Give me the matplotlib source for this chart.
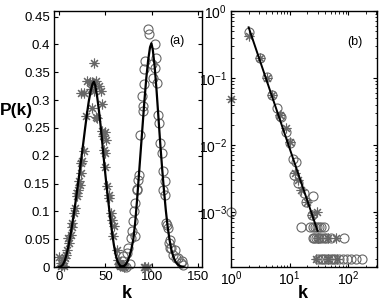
import numpy as np
import matplotlib
matplotlib.use("Agg")
import matplotlib.pyplot as plt

plt.rcParams['font.family'] = ['Liberation Sans', 'DejaVu Sans']
plt.rcParams['font.size'] = 9
plt.rcParams['mathtext.default'] = 'regular'

# ---- panel (a): linear P(k), two peaks ----
# fitted curves
fit1_k = [0, 2, 4, 6, 8, 10, 12, 14, 16, 18, 20, 22, 24, 26, 28, 30, 32, 34, 36, 37.5,
          39, 41, 43, 45, 47, 49, 51, 53, 55, 57, 59, 61, 63, 65, 67, 70]
fit1_p = [0, 0.001, 0.004, 0.011, 0.022, 0.037, 0.055, 0.075, 0.097, 0.12, 0.145,
          0.17, 0.196, 0.222, 0.249, 0.275, 0.298, 0.316, 0.329, 0.333,
          0.326, 0.306, 0.28, 0.25, 0.215, 0.18, 0.148, 0.118, 0.09, 0.063, 0.04,
          0.022, 0.01, 0.004, 0.001, 0]
fit2_k = [66, 70, 72, 74, 76, 78, 80, 82, 84, 86, 88, 90, 92, 94, 96, 98, 99.5,
          101, 103, 105, 107, 109, 111, 113, 115, 117, 119, 121, 123, 125, 127,
          129, 131, 134]
fit2_p = [0, 0.002, 0.005, 0.011, 0.02, 0.033, 0.05, 0.08, 0.12, 0.165, 0.21, 0.255,
          0.3, 0.34, 0.372, 0.395, 0.402, 0.39, 0.36, 0.318, 0.27, 0.222, 0.178,
          0.138, 0.102, 0.072, 0.049, 0.031, 0.019, 0.011, 0.006, 0.003, 0.001, 0]

star_k = [0, 1.8, 2.5, 3.5, 4.6, 5.5, 6, 7.2, 9, 10, 10.7, 12.5, 13.6, 14.3, 16, 17,
          19, 19.5, 20.4, 21.5, 22, 23.3, 24, 24.4, 27, 24, 27, 28.7, 30.5, 33.3,
          34.7, 35.8, 35.8, 37.6, 37.6, 39.4, 39.4, 40.5, 43, 44.8, 46, 46.6, 47.7,
          48.4, 49.5, 50, 50, 51, 52, 53.8, 53.8, 55.5, 57.3, 58, 59, 62, 64, 65,
          66, 67, 68, 69, 70, 91, 93, 95.5]
star_p = [0.018, 0.007, 0.001, 0.004, 0.013, 0.002, 0.016, 0.022, 0.031, 0.052, 0.043,
          0.058, 0.072, 0.079, 0.097, 0.106, 0.127, 0.133, 0.139, 0.154, 0.148,
          0.169, 0.187, 0.19, 0.208, 0.313, 0.312, 0.271, 0.334, 0.332, 0.32,
          0.333, 0.286, 0.366, 0.316, 0.334, 0.27, 0.268, 0.325, 0.316, 0.292,
          0.244, 0.235, 0.21, 0.243, 0.205, 0.18, 0.229, 0.145, 0.13, 0.124,
          0.097, 0.085, 0.055, 0.073, 0.031, 0.013, 0.006, 0.002, 0.004, 0.001,
          0.003, 0.0, 0, 0, 0]

circ_k = [65.6, 67.4, 69, 70, 72, 73, 74.5, 76, 78, 79, 80, 80.7, 82, 82, 83.5, 84,
          85, 86, 87, 89, 90, 90.7, 91, 91.5, 92.5, 96, 97, 100, 101.5, 103, 103,
          104, 105, 107, 108, 109, 110.4, 111.5, 112, 114, 114, 115, 115.8, 117,
          118.6, 119.4, 119.4, 121, 123, 124.7, 126.5, 128, 131, 132, 133.7]
circ_p = [0.004, 0.01, 0.019, 0.002, 0.0, 0.025, 0.034, 0.005, 0.052, 0.064, 0.082,
          0.1, 0.115, 0.055, 0.14, 0.139, 0.157, 0.166, 0.238, 0.307, 0.28, 0.289,
          0.328, 0.355, 0.37, 0.428, 0.418, 0.364, 0.34, 0.40, 0.358, 0.376, 0.33,
          0.274, 0.258, 0.222, 0.205, 0.172, 0.139, 0.13, 0.154, 0.079, 0.076,
          0.07, 0.043, 0.034, 0.049, 0.034, 0.022, 0.031, 0.016, 0.016, 0.007,
          0.01, 0.004]

# ---- panel (b): log-log ----
line_k = [2.0, 30]
line_p = [0.57, 5.2e-4]

lc_k = [1, 2.04, 3.1, 4.1, 5.1, 6.0, 6.9, 7.2, 8.8, 10, 11.5, 12.8, 11.7, 13.8,
        17.6, 25, 19, 24.5,
        15.7, 22.5, 25, 27, 29, 32, 35, 39,
        24.8, 26, 28, 30, 32, 35, 38, 42, 50, 85,
        30, 34, 37, 40, 45, 50, 55, 60, 70, 80, 95, 110, 135, 173]
lc_p = [1e-3, 0.48, 0.2, 0.104, 0.056, 0.035, 0.027, 0.026, 0.0154, 0.0108, 0.0062,
        0.0055, 0.0036, 0.0027, 0.0019, 0.0017, 0.0014, 9e-4,
        6e-4, 6e-4, 6e-4, 6e-4, 6e-4, 6e-4, 6e-4, 6e-4,
        4e-4, 4e-4, 4e-4, 4e-4, 4e-4, 4e-4, 4e-4, 4e-4, 4e-4, 4e-4,
        2e-4, 2e-4, 2e-4, 2e-4, 2e-4, 2e-4, 2e-4, 2e-4, 2e-4, 2e-4, 2e-4, 2e-4,
        2e-4, 2e-4]
ls_k = [1, 2.04, 3.1, 4.1, 5.1, 6.9, 8.8, 10, 12.5, 13.8, 15.9, 19.8, 24.5, 29,
        30, 45, 61, 28, 45, 65]
ls_p = [0.049, 0.43, 0.2, 0.1, 0.055, 0.028, 0.018, 0.011, 0.0038, 0.003, 0.0021,
        0.0014, 9e-4, 0.001, 4e-4, 4e-4, 4e-4, 2e-4, 2e-4, 2e-4]

W, H = 382, 302
fig = plt.figure(figsize=(W / 100, H / 100), dpi=100)
ax1 = fig.add_axes([54 / W, 1 - 267 / H, 148 / W, 256 / H])
ax2 = fig.add_axes([231 / W, 1 - 267 / H, 146 / W, 256 / H])

mk_gray = '0.4'
ast = (8, 2, 0)   # matlab-like asterisk

ax1.plot(star_k, star_p, ls='none', marker=ast, ms=7, mec=mk_gray, mew=0.8,
         clip_on=False)
ax1.plot(circ_k, circ_p, 'o', ms=6.5, mec=mk_gray, mfc='none', mew=0.8, clip_on=False)
ax1.plot(fit1_k, fit1_p, 'k-', lw=1.6)
ax1.plot(fit2_k, fit2_p, 'k-', lw=1.6)
ax1.set_xlim(-5.5, 154)
ax1.set_ylim(0, 0.46)
ax1.set_xticks([0, 50, 100, 150])
ax1.set_yticks(np.arange(0, 0.46, 0.05))
ax1.set_yticklabels(['0', '0.05', '0.1', '0.15', '0.2', '0.25', '0.3', '0.35',
                     '0.4', '0.45'])
ax1.text(0.83, 0.884, '(a)', transform=ax1.transAxes, ha='center', va='center')

ax2.plot(lc_k, lc_p, 'o', ms=6.5, mec=mk_gray, mfc='none', mew=0.8, clip_on=False)
ax2.plot(ls_k, ls_p, ls='none', marker=ast, ms=7, mec=mk_gray, mew=0.8,
         clip_on=False)
ax2.plot(line_k, line_p, 'k-', lw=1.4)
ax2.set_xscale('log')
ax2.set_yscale('log')
ax2.set_xlim(1, 310)
ax2.set_ylim(1.5e-4, 1)
ax2.text(0.85, 0.879, '(b)', transform=ax2.transAxes, ha='center', va='center')

for ax in (ax1, ax2):
    ax.tick_params(which='both', direction='in', top=True, right=True,
                   labelsize=9.5, pad=3)
    ax.tick_params(which='major', length=3)
    ax.tick_params(which='minor', length=1.8)
    for s in ax.spines.values():
        s.set_linewidth(1.0)
ax2.tick_params(labelsize=10)
ax2.tick_params(axis='x', pad=2)

fig.text(0.0, 1 - 110 / H, 'P(k)', fontsize=12.5, fontweight='bold',
         ha='left', va='center')
fig.text(127 / W, 1 - 293 / H, 'k', fontsize=13, fontweight='bold',
         ha='center', va='center')
fig.text(303 / W, 1 - 294 / H, 'k', fontsize=13, fontweight='bold',
         ha='center', va='center')

fig.savefig('out.png', dpi=100)
